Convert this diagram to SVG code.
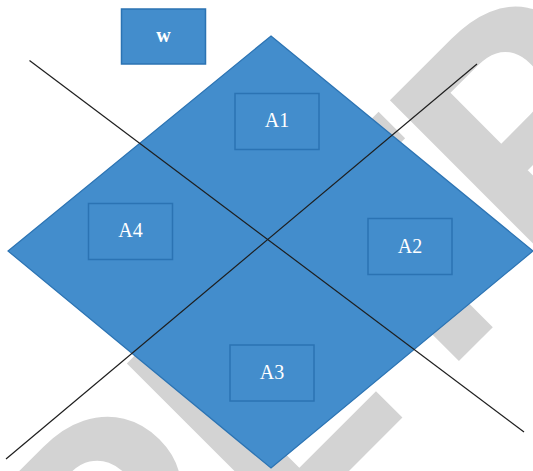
<svg xmlns="http://www.w3.org/2000/svg" width="533" height="471" viewBox="0 0 533 471">
<style>
.shape{fill:#438dcc;stroke:#2b73b3;stroke-width:1.2}
.box{fill:#438dcc;stroke:#2b73b3;stroke-width:1.5}
.lbl{font-family:"Liberation Serif","Times New Roman",serif;font-size:20px;fill:#ffffff;text-anchor:middle}
.wm{font-family:Roboto,"Liberation Sans",sans-serif;font-weight:700;font-size:328px;fill:#d3d3d3}
.ln{stroke:#1e1e1e;stroke-width:1.2;fill:none}
</style>
<rect width="533" height="471" fill="#ffffff"/>
<g id="watermark"><text class="wm" transform="translate(410,410) rotate(-45)" x="-397 -188 -8 184" y="0">PETR</text></g>
<g id="diamond"><polygon class="shape" points="271,36 533,251 271,468 8,251"/></g>
<g id="connectors">
<line class="ln" x1="29.5" y1="60.5" x2="524" y2="432"/>
<line class="ln" x1="6" y1="459" x2="477" y2="64"/>
</g>
<g id="w"><rect class="box" x="121.5" y="9" width="84" height="55"/><text class="lbl" x="163.5" y="42" font-weight="bold">w</text></g>
<g id="A1"><rect class="box" x="235" y="93.5" width="84" height="56"/><text class="lbl" x="277" y="127">A1</text></g>
<g id="A2"><rect class="box" x="368" y="218.5" width="84" height="56"/><text class="lbl" x="410" y="252.5">A2</text></g>
<g id="A3"><rect class="box" x="230" y="345" width="84" height="56"/><text class="lbl" x="272" y="379">A3</text></g>
<g id="A4"><rect class="box" x="88.5" y="203.5" width="84" height="56"/><text class="lbl" x="130.5" y="237">A4</text></g>
</svg>
